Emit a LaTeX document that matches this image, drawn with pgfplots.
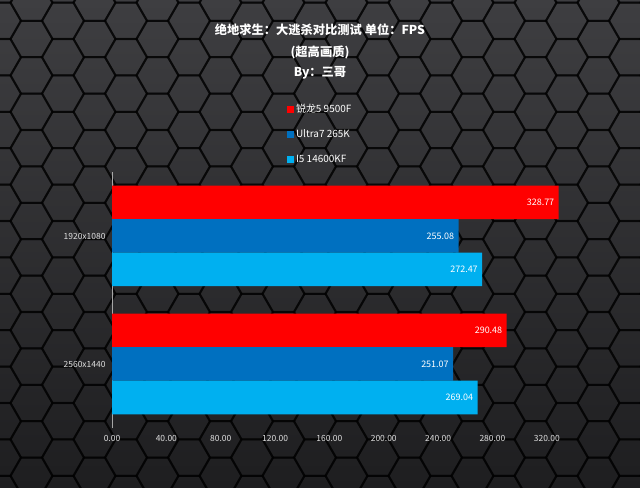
\documentclass[border=0pt]{standalone}
\usepackage{pgfplots}
\pgfplotsset{compat=1.18}
\usepackage{fontspec}
\setmainfont{Noto Sans CJK SC}
\definecolor{bgtop}{HTML}{3E3E41}
\definecolor{bgbot}{HTML}{1E1E20}
\definecolor{cred}{HTML}{FF0000}
\definecolor{cblue}{HTML}{0070C0}
\definecolor{clight}{HTML}{00B0F0}
\definecolor{txt}{HTML}{E0E0E0}
\begin{document}
\begin{tikzpicture}
\begin{scope}[x=1bp,y=1bp]
\shade[top color=bgtop, bottom color=bgbot] (0,0) rectangle (640,488);
\clip (0,0) rectangle (640,488);
\foreach \c in {0,...,21}{
  \foreach \r in {0,...,14}{
    \pgfmathsetmacro{\cx}{\c*31.5}
    \pgfmathsetmacro{\cy}{\r*36.4+mod(\c,2)*18.2-6}
    \draw[black, opacity=0.6, line width=2bp] (\cx,\cy) ++(21,0) -- ++(120:21) -- ++(180:21) -- ++(240:21) -- ++(300:21) -- ++(0:21) -- cycle;
  }
}
\end{scope}
\useasboundingbox (0bp,0bp) rectangle (640bp,488bp);
\node[font=\bfseries\fontsize{12.3}{14}\selectfont, text=white] at (320bp,458bp) {绝地求生：大逃杀对比测试 单位：FPS};
\node[font=\bfseries\fontsize{12.3}{14}\selectfont, text=white] at (320bp,436bp) {(超高画质)};
\node[font=\bfseries\fontsize{12.3}{14}\selectfont, text=white] at (320bp,415bp) {By：三哥};
\begin{axis}[
  at={(112bp,60bp)}, anchor=south west,
  scale only axis, width=462bp, height=256bp,
  xbar, bar width=33.5bp,
  xmin=0, xmax=340, ymin=-0.5, ymax=1.5,
  xtick={0,40,...,320},
  xticklabel={\pgfmathprintnumber[fixed,fixed zerofill,precision=2]{\tick}},
  /pgf/number format/assume math mode=true,
  ytick={0,1}, yticklabels={2560x1440,1920x1080},
  tick label style={font=\fontsize{8.5}{10}\selectfont, text=txt},
  major tick length=0pt,
  axis y line*=left, axis x line*=bottom,
  y axis line style={draw=gray!70, line width=0.5pt, -},
  x axis line style={draw=none, -},
  xticklabel style={yshift=-4bp},
  yticklabel style={xshift=-3bp},
  point meta=explicit symbolic,
  nodes near coords,
  every node near coord/.append style={anchor=east, xshift=-1bp, text=white, font=\fontsize{9}{11}\selectfont},
  legend style={at={(0.372,1.28)}, anchor=north west, draw=none, fill=none,
    text=white, font=\fontsize{10}{12}\selectfont, row sep=11.5bp,
    legend cell align=left},
  legend image code/.code={\fill[#1] (0bp,-3.5bp) rectangle (7bp,3.5bp);},
]
\addplot[fill=cred, draw=none, bar shift=33.5bp] coordinates {(328.77,1)[328.77] (290.48,0)[290.48]};
\addplot[fill=cblue, draw=none, bar shift=0bp] coordinates {(255.08,1)[255.08] (251.07,0)[251.07]};
\addplot[fill=clight, draw=none, bar shift=-33.5bp] coordinates {(272.47,1)[272.47] (269.04,0)[269.04]};
\legend{锐龙5 9500F, Ultra7 265K, I5 14600KF}
\end{axis}
\end{tikzpicture}
\end{document}
